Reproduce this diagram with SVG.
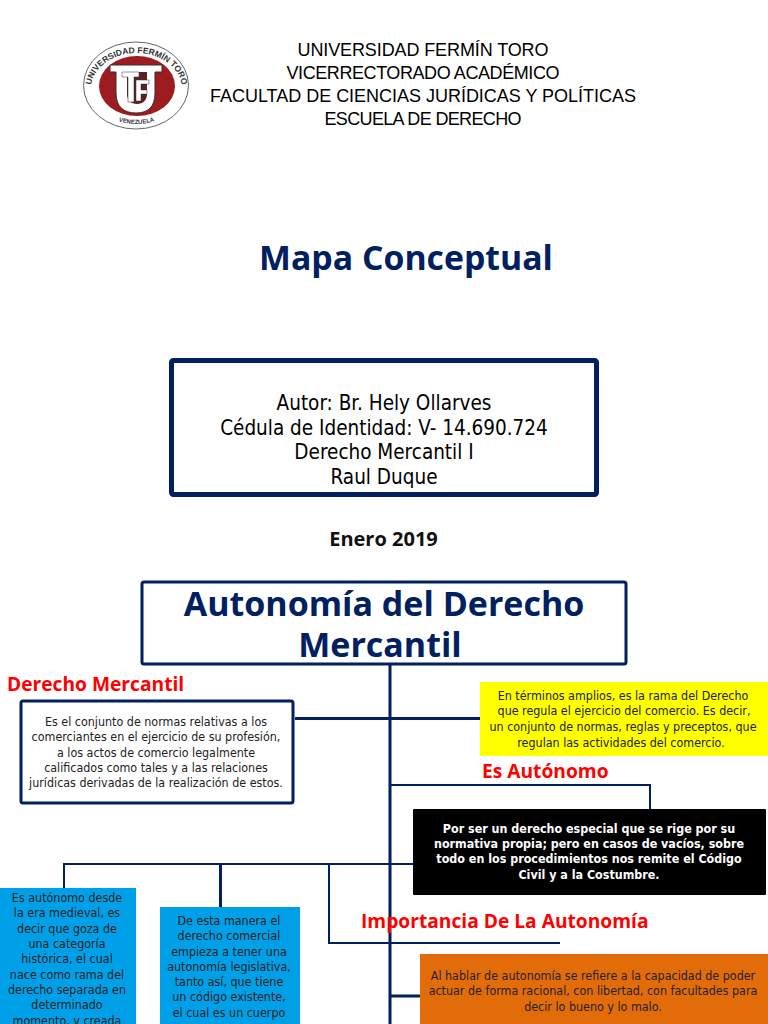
<svg xmlns="http://www.w3.org/2000/svg" width="768" height="1024" viewBox="0 0 768 1024">
<style>
text{text-anchor:middle}
.h{font-family:"Liberation Sans",Arial,sans-serif;font-size:18px;fill:#000}
.a{font-family:"DejaVu Sans Condensed","DejaVu Sans",sans-serif;font-size:20.500px;fill:#000}
.t{font-family:"Open Sans","Noto Sans",sans-serif;font-weight:700;fill:#002060}
.r{font-family:"Open Sans","Noto Sans",sans-serif;font-weight:700;font-size:19.200px;fill:#f00;text-anchor:start}
.s{font-family:"DejaVu Sans Condensed","DejaVu Sans",sans-serif;font-size:12.400px;fill:#222}
.w{font-family:"DejaVu Sans Condensed","DejaVu Sans",sans-serif;font-size:12.400px;font-weight:700;fill:#fff}
.f{stroke:#002060;fill:none}
</style>
<rect width="768" height="1024" fill="#fff"/>
<g id="logo">
<ellipse cx="136" cy="85.500" rx="52.500" ry="43.500" fill="#fff" stroke="#666" stroke-width="1"/>
<ellipse cx="137" cy="86" rx="38" ry="30" fill="#9c1c20"/>
<path d="M110 65H162V72H155V93C155 107 148 113 136 113C124 113 116 107 116 93V72H110Z" fill="#fff" stroke="#333" stroke-width="1"/>
<path d="M127 72H147V94C147 100 143 104 137 104C131 104 127 100 127 94Z" fill="#5a2024"/>
<path d="M122 72H139V77H134V102H128V77H122Z" fill="#fff" stroke="#333" stroke-width=".5"/>
<path d="M136 80H149V84H141V90H147V94H141V101H136Z" fill="#fff" stroke="#333" stroke-width=".5"/>
<path id="arc1" d="M91 89A45.500 36 0 1 1 182 89" fill="none"/>
<path id="arc2" d="M113 119Q136 129 160 119" fill="none"/>
<text font-family="Liberation Sans,sans-serif" font-size="8.500" font-weight="700" fill="#333"><textPath href="#arc1" startOffset="50%">UNIVERSIDAD FERMÍN TORO</textPath></text>
<text font-family="Liberation Sans,sans-serif" font-size="6" font-weight="700" fill="#333"><textPath href="#arc2" startOffset="50%">VENEZUELA</textPath></text>
</g>
<g id="header">
<text class="h" x="423" y="56" textLength="251">UNIVERSIDAD FERMÍN TORO</text>
<text class="h" x="423" y="79" textLength="273">VICERRECTORADO ACADÉMICO</text>
<text class="h" x="423" y="102" textLength="426">FACULTAD DE CIENCIAS JURÍDICAS Y POLÍTICAS</text>
<text class="h" x="423" y="125" textLength="197">ESCUELA DE DERECHO</text>
</g>
<text id="title" class="t" x="406" y="270" font-size="33.800">Mapa Conceptual</text>
<g id="autor">
<rect x="171.500" y="360.500" width="425" height="134" rx="2" fill="#fff" stroke="#002060" stroke-width="5"/>
<text class="a" x="384" y="410">Autor: Br. Hely Ollarves</text>
<text class="a" x="384" y="435">Cédula de Identidad: V- 14.690.724</text>
<text class="a" x="384" y="459">Derecho Mercantil I</text>
<text class="a" x="384" y="484">Raul Duque</text>
</g>
<text id="fecha" x="383.500" y="546" font-family="Open Sans,Noto Sans,sans-serif" font-weight="700" font-size="20" fill="#111">Enero 2019</text>
<g id="connectors" class="f">
<path stroke-width="3" d="M390 664V1024M295 718.500H480M390 996H420"/>
<path stroke-width="2" d="M390 785H650V809M64 888V864H413M329 864V943H560"/>
<path stroke-width="3" d="M220.500 864V907"/>
</g>
<g id="autonomia">
<rect x="142" y="582" width="484" height="82" rx="2" fill="#fff" stroke="#002060" stroke-width="3"/>
<text class="t" x="384" y="616" font-size="34">Autonomía del Derecho</text>
<text class="t" x="380" y="657" font-size="34">Mercantil</text>
</g>
<text id="l1" class="r" x="7" y="691">Derecho Mercantil</text>
<g id="derecho">
<rect x="21" y="701" width="272" height="102" rx="2" fill="#fff" stroke="#002060" stroke-width="3"/>
<text class="s" x="156" y="726">Es el conjunto de normas relativas a los</text>
<text class="s" x="156" y="741">comerciantes en el ejercicio de su profesión,</text>
<text class="s" x="156" y="757">a los actos de comercio legalmente</text>
<text class="s" x="156" y="772">calificados como tales y a las relaciones</text>
<text class="s" x="156" y="787">jurídicas derivadas de la realización de estos.</text>
</g>
<g id="amarillo">
<rect x="480" y="682" width="288" height="74" fill="#ff0"/>
<text class="s" x="623" y="700">En términos amplios, es la rama del Derecho</text>
<text class="s" x="624" y="715">que regula el ejercicio del comercio. Es decir,</text>
<text class="s" x="623" y="731">un conjunto de normas, reglas y preceptos, que</text>
<text class="s" x="621" y="747">regulan las actividades del comercio.</text>
</g>
<text id="l2" class="r" x="482" y="778">Es Autónomo</text>
<g id="negro">
<rect x="413" y="809" width="353" height="86" rx="1" fill="#000"/>
<text class="w" x="589" y="833">Por ser un derecho especial que se rige por su</text>
<text class="w" x="589" y="848">normativa propia; pero en casos de vacíos, sobre</text>
<text class="w" x="589" y="863">todo en los procedimientos nos remite el Código</text>
<text class="w" x="589" y="879">Civil y a la Costumbre.</text>
</g>
<g id="azul1">
<rect x="0" y="888" width="136" height="136" fill="#00a0e8"/>
<text class="s" x="67" y="902">Es autónomo desde</text>
<text class="s" x="67" y="917">la era medieval, es</text>
<text class="s" x="67" y="933">decir que goza de</text>
<text class="s" x="67" y="948">una categoría</text>
<text class="s" x="67" y="963">histórica, el cual</text>
<text class="s" x="67" y="979">nace como rama del</text>
<text class="s" x="67" y="994">derecho separada en</text>
<text class="s" x="67" y="1009">determinado</text>
<text class="s" x="67" y="1025">momento, y creada</text>
</g>
<g id="azul2">
<rect x="160" y="907" width="140" height="117" fill="#00a0e8"/>
<text class="s" x="229" y="925">De esta manera el</text>
<text class="s" x="229" y="940">derecho comercial</text>
<text class="s" x="229" y="956">empieza a tener una</text>
<text class="s" x="229" y="971">autonomía legislativa,</text>
<text class="s" x="229" y="986">tanto así, que tiene</text>
<text class="s" x="229" y="1001">un código existente,</text>
<text class="s" x="229" y="1017">el cual es un cuerpo</text>
</g>
<text id="l3" class="r" x="361" y="928">Importancia De La Autonomía</text>
<g id="naranja">
<rect x="420" y="954" width="348" height="70" fill="#e36c0a"/>
<text class="s" x="593" y="980">Al hablar de autonomía se refiere a la capacidad de poder</text>
<text class="s" x="593" y="995">actuar de forma racional, con libertad, con facultades para</text>
<text class="s" x="593" y="1011">decir lo bueno y lo malo.</text>
</g>
</svg>
